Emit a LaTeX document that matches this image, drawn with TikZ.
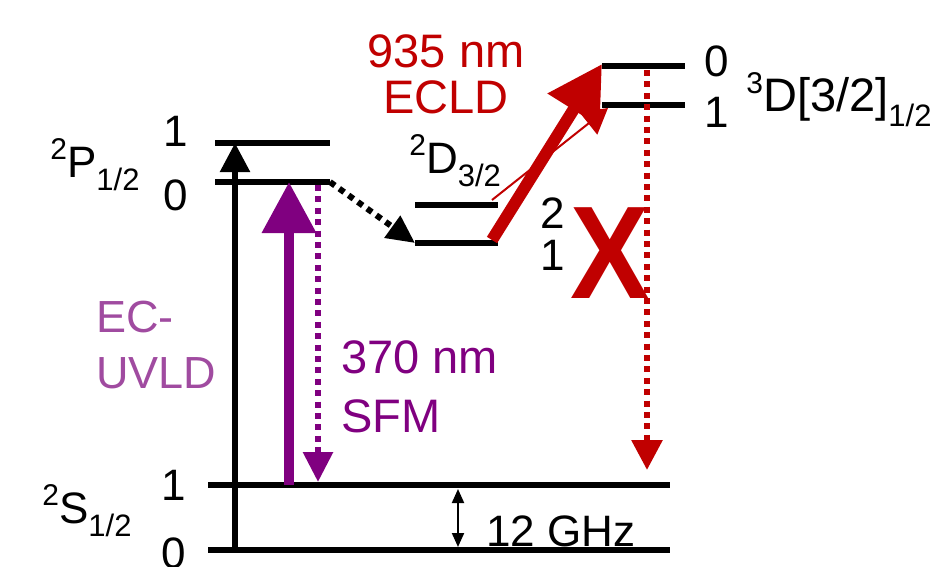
\documentclass[tikz,border=0pt]{standalone}
\usepackage{fontspec}
\setmainfont{Liberation Sans}
\setsansfont{Liberation Sans}
\usepackage{graphicx}
\usetikzlibrary{arrows.meta}
\definecolor{ionpurple}{HTML}{800080}
\definecolor{ionviolet}{HTML}{A04BA0}
\definecolor{ionred}{HTML}{C00000}
\newcommand{\upidx}[1]{\raisebox{0.4em}{\fontsize{15}{15}\selectfont #1}}
\newcommand{\loidx}[1]{\raisebox{-0.3em}{\fontsize{15.5}{15}\selectfont #1}}

\begin{document}
\begin{tikzpicture}[x=0.5pt,y=-0.5pt,font=\sffamily]
  \tikzstyle{level}=[line width=3pt, draw=black]
  \tikzstyle{lvl}=[font=\fontsize{22}{22}\selectfont, inner sep=0pt]
  \tikzstyle{dotline}=[line width=3pt, dash pattern=on 3pt off 2.7pt]
  \useasboundingbox (0,0) rectangle (942,567);

  \foreach \n/\xa/\xb/\y in {P1/215/330/143, P0/215/330/182, D2/415/498/205,
    D1/415/498/243, T0/602/685/66, T1/602/685/105, S1/208/670/485, S0/208/670/550} {
    \coordinate (\n w) at (\xa,\y);
    \coordinate (\n e) at (\xb,\y);
    \draw[level] (\n w) -- (\n e);
  }

  \coordinate (ax0) at (235,550);
  \coordinate (ax1) at (235,143);
  \coordinate (uv0) at (289,485);
  \coordinate (uv1) at (289,182);
  \coordinate (sf0) at (318,185);
  \coordinate (sf1) at (318,482);
  \coordinate (ir0) at (492,240);
  \coordinate (ir1) at (602,64);
  \coordinate (ir2) at (492,200);
  \coordinate (ir3) at (608,108);
  \coordinate (ry0) at (647,70);
  \coordinate (ry1) at (647,470);
  \coordinate (hf0) at (458,489);
  \coordinate (hf1) at (458,547);

  \draw[line width=2.75pt, -{Triangle[length=14.5pt,width=14.5pt]}] (ax0) -- (ax1);
  \draw[ionpurple, line width=5pt, -{Triangle[length=25.5pt,width=26pt]}] (uv0) -- (uv1);
  \draw[ionpurple, dotline, -{Triangle[length=15pt,width=14.5pt]}] (sf0) -- (sf1);
  \draw[dotline, -{Triangle[length=14pt,width=13pt]}] (P0e) -- (D1w);
  \draw[ionred, line width=6pt, -{Triangle[length=27pt,width=29pt]}] (ir0) -- (ir1);
  \draw[ionred, line width=1pt, -{Triangle[length=12.5pt,width=14pt]}] (ir2) -- (ir3);
  \draw[ionred, dotline, -{Triangle[length=15pt,width=15pt]}] (ry0) -- (ry1);
  \draw[line width=1pt, {Triangle[length=7pt,width=6pt]}-{Triangle[length=7pt,width=6pt]}] (hf0) -- (hf1);

  % level labels
  \node[lvl, anchor=base] (lP1) at (176,147) {1};
  \node[lvl, anchor=base] (lP0) at (176,210) {0};
  \node[lvl, anchor=base west] (tP) at (50,177) {\upidx{2}P\loidx{1/2}};
  \node[lvl, anchor=base west] (tD) at (409,173) {\upidx{2}D\loidx{3/2}};
  \node[lvl, anchor=base] (lD2) at (553,228) {2};
  \node[lvl, anchor=base] (lD1) at (553,270) {1};
  \node[lvl, anchor=base] (lT0) at (717,77) {0};
  \node[lvl, anchor=base] (lT1) at (717,127) {1};
  \node[lvl, anchor=base west, font=\fontsize{23.5}{23.5}\selectfont] (tT) at (746,112)
    {\upidx{3}D[3/2]\loidx{1/2}};
  \node[lvl, anchor=base] (lS1) at (174,500) {1};
  \node[lvl, anchor=base] (lS0) at (174,568) {0};
  \node[lvl, anchor=base west] (tS) at (42,523) {\upidx{2}S\loidx{1/2}};
  \node[lvl, anchor=base west] (ghz) at (486,546) {12 GHz};

  % lasers
  \node[inner sep=0pt, text=ionred, align=center, anchor=base,
    font=\fontsize{23.5}{23}\selectfont] (ecld) at (446,113) {935 nm\\ECLD};
  \node[inner sep=0pt, text=ionviolet, align=left, anchor=base west,
    font=\fontsize{22.5}{28}\selectfont] (uvld) at (96,388) {EC-\\UVLD};
  \node[inner sep=0pt, text=ionpurple, align=left, anchor=base west,
    font=\fontsize{23.5}{29.5}\selectfont] (sfm) at (341,432) {370 nm\\SFM};
  \node[inner sep=0pt, text=ionred, anchor=base,
    font=\bfseries\fontsize{66}{66}\selectfont] (cross) at (610,298) {\scalebox{0.9}[1]{X}};
\end{tikzpicture}
\end{document}
